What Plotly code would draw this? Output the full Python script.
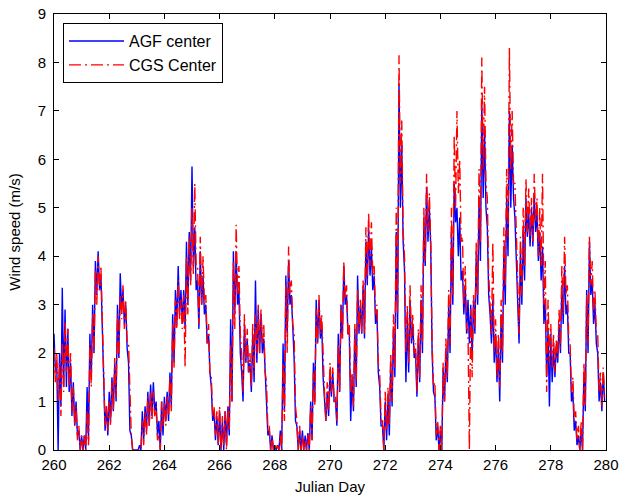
import plotly.graph_objects as go

# Sampling: every 0.1 day the band of the trace is read as (high, low) pair,
# plotted at t and t+0.05 days.
day_start = 260.0
half_step = 0.05

# AGF center (blue), pairs of (high, low) per 0.1 day
agf_260_264 = [
    2.4,1.6, 1.8,0.0, 2.0,0.9, 3.35,1.3, 2.9,1.3, 2.5,1.2, 1.8,0.7, 1.4,0.5, 1.0,0.3, 0.4,0.0,
    0.3,0.0, 0.3,0.0, 1.3,0.2, 2.4,1.5, 3.0,2.0, 3.9,3.2, 4.1,3.3, 3.6,2.3, 1.5,0.4, 0.9,0.3,
    1.2,0.6, 1.5,0.8, 1.8,1.0, 3.0,1.9, 3.65,2.9, 3.3,2.6, 3.0,2.1, 1.8,0.4, 0.3,0.0, 0.0,0.0,
    0.0,0.0, 0.1,0.0, 0.8,0.2, 0.9,0.4, 1.2,0.5, 1.35,0.7, 1.4,0.8, 1.0,0.3, 0.6,0.0, 1.0,0.3,
    1.1,0.6, 1.2,0.6, 1.6,0.9, 2.8,1.8, 3.3,2.6, 3.8,2.8, 3.3,2.6, 3.3,2.5, 4.3,3.0, 4.5,3.5,
]
agf_265_269 = [
    5.85,3.8, 4.6,3.3, 3.5,2.5, 4.1,3.0, 3.6,2.8, 3.0,2.2, 2.4,1.6, 1.3,0.6, 0.8,0.2, 0.7,0.1,
    0.8,0.0, 0.6,0.0, 0.8,0.1, 0.9,0.3, 2.7,1.0, 4.1,2.8, 4.1,3.0, 3.3,2.0, 1.6,1.0, 2.6,1.8,
    2.3,1.6, 1.8,1.2, 2.4,1.4, 3.5,1.8, 2.9,2.0, 2.8,2.0, 2.3,1.6, 1.0,0.3, 0.4,0.0, 0.3,0.0,
    0.1,0.0, 0.1,0.0, 0.4,0.0, 2.2,0.8, 3.6,2.4, 3.9,3.0, 3.2,2.5, 1.9,0.6, 0.5,0.0, 0.4,0.0,
    0.4,0.0, 0.3,0.0, 0.35,0.0, 1.0,0.2, 1.8,1.0, 3.1,2.2, 3.1,2.3, 2.6,1.5, 1.0,0.6, 1.2,0.7,
]
agf_270_274 = [
    1.6,1.1, 1.6,1.0, 1.0,0.5, 2.4,1.2, 3.0,2.3, 3.8,3.0, 3.2,2.4, 2.4,0.6, 1.5,0.8, 2.5,1.3,
    3.6,2.4, 3.0,2.4, 3.4,2.3, 4.3,3.4, 4.6,3.6, 4.2,3.3, 3.6,2.6, 2.9,1.6, 1.3,0.5, 0.5,0.0,
    1.0,0.2, 1.1,0.3, 1.8,0.9, 2.5,1.5, 4.5,2.5, 7.57,5.0, 6.3,4.3, 3.7,1.4, 2.7,1.6, 3.1,2.2,
    2.6,1.9, 2.0,1.1, 2.3,1.4, 3.1,2.0, 4.8,3.8, 5.43,4.3, 5.0,4.2, 2.0,1.2, 1.1,0.2, 0.5,0.0,
    0.4,0.0, 1.7,1.0, 2.1,1.4, 3.0,2.0, 4.5,3.0, 5.5,4.7, 5.0,4.0, 4.8,3.5, 3.7,2.8, 3.4,2.4,
]
agf_275_279 = [
    3.1,2.2, 3.0,1.9, 3.1,2.4, 4.1,3.0, 5.2,3.9, 7.15,5.2, 6.6,5.0, 4.6,3.2, 2.8,2.2, 3.1,1.8,
    2.4,1.4, 2.1,1.0, 2.8,1.8, 4.2,3.0, 5.2,4.0, 7.0,5.0, 6.3,5.2, 4.8,4.0, 3.1,2.2, 4.1,3.0,
    4.5,3.5, 5.2,4.4, 4.9,4.2, 5.0,4.2, 5.3,4.5, 4.9,3.9, 4.5,3.5, 4.2,2.6, 3.1,1.5, 2.5,0.9,
    2.4,1.4, 2.1,1.5, 2.2,1.8, 2.6,2.0, 3.4,2.6, 3.8,2.8, 3.0,2.0, 2.0,1.0, 1.2,0.4, 0.6,0.1,
    0.3,0.0, 0.4,0.0, 1.6,0.8, 3.3,2.0, 4.3,3.2, 3.5,2.6, 3.0,2.2, 2.0,1.0, 1.4,0.8, 1.6,1.0,
]

# CGS Center (red), pairs of (high, low) per 0.1 day
cgs_260_264 = [
    2.1,1.4, 2.0,1.0, 1.8,0.7, 2.2,1.2, 2.65,1.6, 2.5,1.3, 2.0,0.8, 1.3,0.5, 0.9,0.2, 0.5,0.0,
    0.3,0.0, 0.3,0.0, 0.8,0.1, 2.2,1.3, 2.8,2.0, 3.7,3.0, 4.0,3.3, 3.8,2.6, 2.0,0.5, 0.9,0.4,
    1.0,0.5, 1.4,0.8, 1.9,1.1, 2.8,1.9, 3.2,2.7, 3.4,2.5, 3.1,2.2, 2.2,1.0, 0.3,0.0, 0.0,0.0,
    0.0,0.0, 0.0,0.0, 0.6,0.1, 0.8,0.3, 1.1,0.5, 1.2,0.6, 1.2,0.7, 0.9,0.2, 0.3,0.0, 1.0,0.5,
    1.0,0.5, 1.1,0.7, 1.5,0.8, 2.6,1.7, 3.1,2.5, 3.5,2.7, 3.1,2.5, 3.2,1.7, 4.0,2.8, 4.4,3.4,
]
cgs_265_269 = [
    5.0,3.6, 5.5,3.8, 3.8,2.6, 4.4,3.0, 4.0,3.0, 3.2,2.2, 2.6,1.5, 1.5,0.7, 0.9,0.3, 0.8,0.1,
    0.9,0.0, 0.7,0.1, 0.8,0.0, 0.9,0.4, 2.2,1.0, 3.9,2.5, 4.65,3.2, 3.8,2.4, 2.0,1.2, 2.8,1.8,
    2.5,1.6, 2.0,1.3, 2.6,1.6, 2.8,2.0, 3.0,2.0, 2.9,2.2, 2.6,1.6, 1.4,0.4, 0.5,0.0, 0.3,0.0,
    0.1,0.0, 0.1,0.0, 0.3,0.0, 1.8,0.6, 3.4,2.0, 4.2,3.2, 3.5,2.6, 2.4,0.9, 0.6,0.0, 0.5,0.0,
    0.3,0.0, 0.2,0.0, 0.3,0.0, 0.9,0.2, 1.6,0.9, 2.9,2.2, 3.2,2.4, 2.8,1.8, 1.2,0.6, 1.4,0.8,
]
cgs_270_274 = [
    1.8,1.2, 1.7,1.0, 1.1,0.6, 2.2,1.2, 3.0,2.3, 3.9,3.1, 3.4,2.4, 2.6,1.2, 1.6,0.9, 2.6,1.4,
    3.3,2.5, 3.1,2.4, 3.5,2.4, 4.6,3.5, 4.9,3.8, 4.7,3.6, 3.8,2.8, 3.0,1.8, 1.6,0.6, 0.6,0.0,
    1.2,0.4, 1.3,0.5, 2.0,1.0, 2.8,1.7, 5.0,2.8, 8.15,5.5, 6.8,4.5, 4.0,2.0, 3.0,1.8, 3.4,2.3,
    2.8,2.0, 2.2,1.2, 2.5,1.5, 3.4,2.2, 5.0,3.9, 5.7,4.5, 5.3,4.3, 2.2,1.3, 1.4,0.3, 0.6,0.0,
    0.5,0.0, 1.8,1.0, 2.3,1.5, 3.3,2.2, 5.0,3.2, 6.5,5.0, 7.0,5.3, 6.0,4.3, 4.4,3.0, 3.8,2.5,
]
cgs_275_279 = [
    2.5,0.0, 2.9,1.5, 3.2,2.5, 4.3,3.2, 5.8,4.3, 8.1,5.8, 7.5,5.5, 5.2,3.6, 3.1,2.4, 4.3,2.0,
    2.7,1.5, 2.4,1.3, 3.1,2.0, 4.6,3.4, 5.8,4.4, 8.3,5.8, 7.0,5.5, 5.5,4.2, 3.5,2.4, 4.4,3.2,
    5.0,3.8, 5.6,4.5, 5.4,4.4, 5.2,4.3, 5.7,4.7, 5.2,4.0, 5.0,3.8, 5.7,3.0, 3.9,1.2, 3.1,1.8,
    2.6,1.7, 2.4,1.6, 2.3,1.9, 2.9,2.1, 3.8,2.8, 4.4,3.2, 3.4,2.3, 2.2,1.2, 1.5,0.6, 0.8,0.2,
    0.5,0.0, 0.6,0.0, 1.8,0.9, 3.2,2.2, 4.4,3.4, 3.9,2.8, 3.3,2.4, 2.4,1.2, 1.6,0.9, 1.7,1.1,
]

x_ticks = [260, 262, 264, 266, 268, 270, 272, 274, 276, 278, 280]
y_ticks = [0, 1, 2, 3, 4, 5, 6, 7, 8, 9]

agf = agf_260_264 + agf_265_269 + agf_270_274 + agf_275_279
cgs = cgs_260_264 + cgs_265_269 + cgs_270_274 + cgs_275_279
t = [day_start + half_step * i for i in range(len(agf))]

font = "Liberation Sans, Arial, sans-serif"

fig = go.Figure()
fig.add_trace(go.Scatter(x=t, y=agf, mode="lines", name="AGF center",
                         line=dict(color="#0000ff", width=1.4)))
fig.add_trace(go.Scatter(x=t, y=cgs, mode="lines", name="CGS Center",
                         line=dict(color="#ff0000", width=1.4, dash="12px,4px,2px,4px")))

axis_common = dict(showline=True, linecolor="black", linewidth=1, mirror="ticks",
                   ticks="inside", ticklen=5, tickcolor="black", showgrid=False,
                   zeroline=False, automargin=False, ticklabeloverflow="allow",
                   tickfont=dict(family=font, size=15, color="black"))

fig.update_layout(
    width=619, height=498, autosize=False,
    margin=dict(l=54, r=13, t=14, b=48, pad=0, autoexpand=False),
    paper_bgcolor="white", plot_bgcolor="white",
    font=dict(family=font, size=15, color="black"),
    xaxis=dict(range=[260, 280], tickvals=x_ticks, ticktext=[str(v) for v in x_ticks],
               title=dict(text="Julian Day", font=dict(family=font, size=15), standoff=9),
               ticklabelstandoff=1, **axis_common),
    yaxis=dict(range=[0, 9], tickvals=y_ticks, ticktext=[str(v) for v in y_ticks],
               title=dict(text="Wind speed (m/s)", font=dict(family=font, size=15), standoff=13),
               ticklabelstandoff=4, **axis_common),
    legend=dict(x=0.0163, y=0.979, xanchor="left", yanchor="top",
                bgcolor="white", bordercolor="black", borderwidth=1,
                font=dict(family=font, size=16), itemwidth=55),
    showlegend=True,
)

# remove the default page margin so the figure sits at the window's top-left corner
fig.write_html("out.html", config={"displayModeBar": False},
               post_script="document.body.style.margin='0px';")
